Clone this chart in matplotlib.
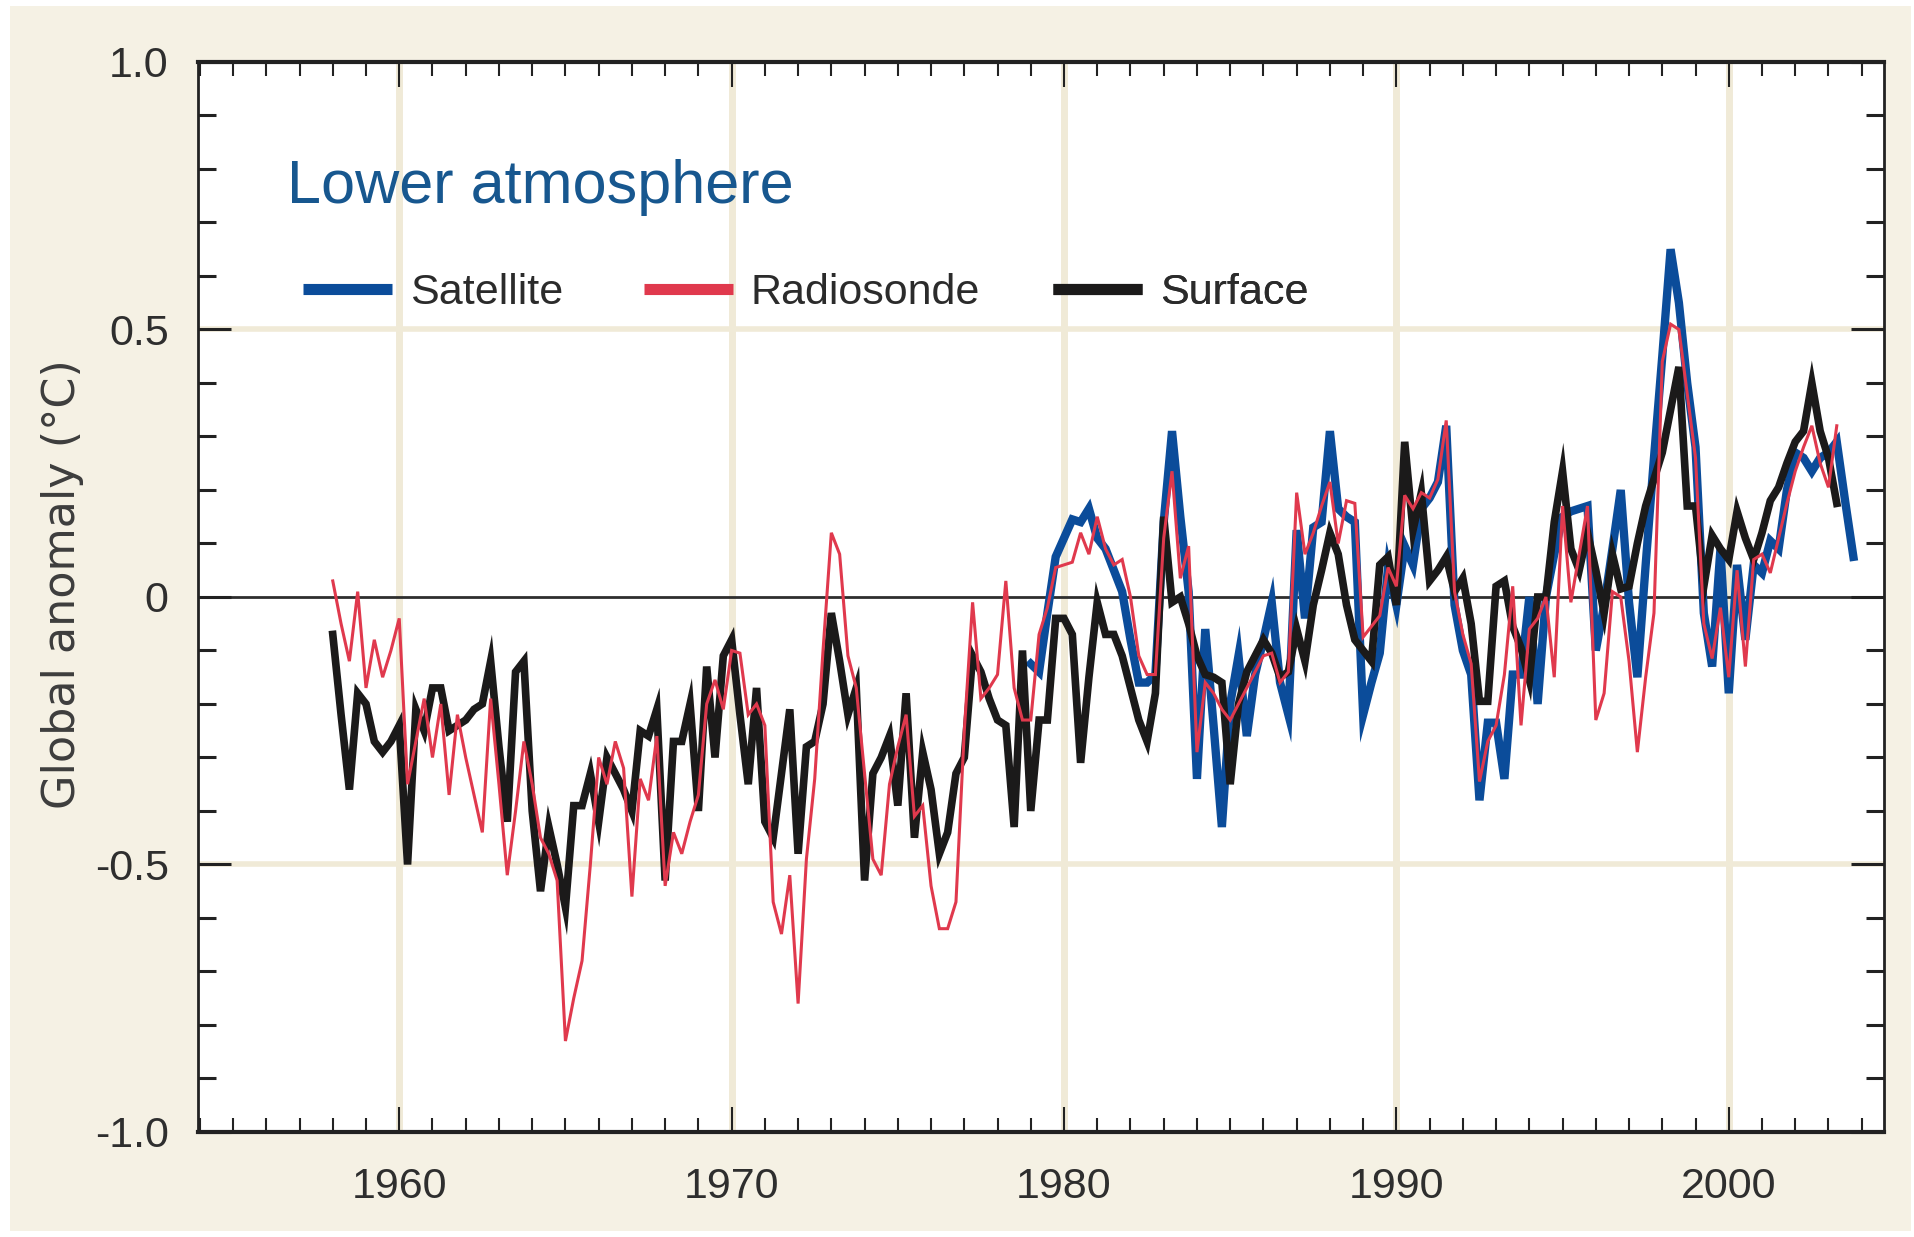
import matplotlib
matplotlib.use('Agg')
import matplotlib.pyplot as plt
import numpy as np
from matplotlib.lines import Line2D
from matplotlib.patches import Rectangle
from matplotlib.ticker import MultipleLocator, FixedLocator

# Seasonal global temperature anomalies (deg C)
surface_start = 1958.0
surface = [
    -0.07, -0.22, -0.36, -0.18,   # 1958
    -0.20, -0.27, -0.29, -0.27,   # 1959
    -0.24, -0.50, -0.21, -0.25,   # 1960
    -0.17, -0.17, -0.25, -0.24,   # 1961
    -0.23, -0.21, -0.20, -0.12,   # 1962
    -0.28, -0.42, -0.14, -0.12,   # 1963
    -0.40, -0.55, -0.43, -0.50,   # 1964
    -0.58, -0.39, -0.39, -0.33,   # 1965
    -0.42, -0.30, -0.33, -0.36,   # 1966
    -0.40, -0.25, -0.26, -0.21,   # 1967
    -0.53, -0.27, -0.27, -0.20,   # 1968
    -0.40, -0.13, -0.30, -0.11,   # 1969
    -0.08, -0.22, -0.35, -0.17,   # 1970
    -0.42, -0.45, -0.33, -0.21,   # 1971
    -0.48, -0.28, -0.27, -0.20,   # 1972
    -0.03, -0.12, -0.22, -0.17,   # 1973
    -0.53, -0.33, -0.30, -0.26,   # 1974
    -0.39, -0.18, -0.45, -0.29,   # 1975
    -0.36, -0.48, -0.44, -0.33,   # 1976
    -0.30, -0.11, -0.14, -0.19,   # 1977
    -0.23, -0.24, -0.43, -0.10,   # 1978
    -0.40, -0.23, -0.23, -0.04,   # 1979
    -0.04, -0.07, -0.31, -0.15,   # 1980
    -0.01, -0.07, -0.07, -0.11,   # 1981
    -0.17, -0.23, -0.27, -0.18,   # 1982
    0.15, -0.01, 0.00, -0.05,     # 1983
    -0.11, -0.145, -0.15, -0.16,  # 1984
    -0.35, -0.20, -0.14, -0.11,   # 1985
    -0.08, -0.105, -0.15, -0.14,  # 1986
    -0.06, -0.12, -0.015, 0.05,   # 1987
    0.12, 0.08, -0.015, -0.08,    # 1988
    -0.10, -0.12, 0.06, 0.075,    # 1989
    -0.015, 0.29, 0.125, 0.195,   # 1990
    0.03, 0.05, 0.075, 0.01,      # 1991
    0.035, -0.05, -0.195, -0.195, # 1992
    0.02, 0.03, -0.055, -0.095,   # 1993
    -0.155, 0.0, 0.0, 0.14,       # 1994
    0.235, 0.09, 0.05, 0.12,      # 1995
    0.05, -0.03, 0.08, 0.015,     # 1996
    0.02, 0.10, 0.17, 0.22,       # 1997
    0.27, 0.35, 0.43, 0.17,       # 1998
    0.17, 0.02, 0.115, 0.09,      # 1999
    0.07, 0.16, 0.11, 0.07,       # 2000
    0.12, 0.18, 0.205, 0.25,      # 2001
    0.29, 0.31, 0.40, 0.31,       # 2002
    0.26, 0.175,                  # 2003
]

radiosonde_start = 1958.0
radiosonde = [
    0.03, -0.05, -0.12, 0.01,     # 1958
    -0.17, -0.08, -0.15, -0.10,   # 1959
    -0.04, -0.35, -0.27, -0.19,   # 1960
    -0.30, -0.20, -0.37, -0.22,   # 1961
    -0.30, -0.37, -0.44, -0.19,   # 1962
    -0.35, -0.52, -0.40, -0.27,   # 1963
    -0.35, -0.45, -0.48, -0.53,   # 1964
    -0.83, -0.75, -0.68, -0.50,   # 1965
    -0.30, -0.35, -0.27, -0.32,   # 1966
    -0.56, -0.34, -0.38, -0.26,   # 1967
    -0.54, -0.44, -0.48, -0.42,   # 1968
    -0.37, -0.20, -0.155, -0.21,  # 1969
    -0.10, -0.105, -0.22, -0.20,  # 1970
    -0.24, -0.57, -0.63, -0.52,   # 1971
    -0.76, -0.49, -0.34, -0.10,   # 1972
    0.12, 0.08, -0.11, -0.17,     # 1973
    -0.33, -0.49, -0.52, -0.35,   # 1974
    -0.28, -0.22, -0.41, -0.39,   # 1975
    -0.54, -0.62, -0.62, -0.57,   # 1976
    -0.25, -0.01, -0.19, -0.17,   # 1977
    -0.145, 0.03, -0.17, -0.23,   # 1978
    -0.23, -0.07, -0.02, 0.055,   # 1979
    0.06, 0.065, 0.12, 0.08,      # 1980
    0.15, 0.09, 0.06, 0.07,       # 1981
    0.0, -0.11, -0.145, -0.145,   # 1982
    0.11, 0.235, 0.035, 0.095,    # 1983
    -0.29, -0.16, -0.18, -0.21,   # 1984
    -0.23, -0.20, -0.17, -0.14,   # 1985
    -0.11, -0.105, -0.16, -0.14,  # 1986
    0.195, 0.08, 0.12, 0.17,      # 1987
    0.215, 0.10, 0.18, 0.175,     # 1988
    -0.075, -0.055, -0.035, 0.055,  # 1989
    0.02, 0.19, 0.165, 0.195,     # 1990
    0.185, 0.22, 0.33, 0.01,      # 1991
    -0.07, -0.125, -0.345, -0.27, # 1992
    -0.24, -0.145, 0.02, -0.24,   # 1993
    -0.06, -0.04, 0.0, -0.15,     # 1994
    0.17, -0.01, 0.08, 0.17,      # 1995
    -0.23, -0.18, 0.01, 0.0,      # 1996
    -0.12, -0.29, -0.15, -0.03,   # 1997
    0.44, 0.51, 0.50, 0.38,       # 1998
    0.26, -0.05, -0.115, -0.02,   # 1999
    -0.15, 0.05, -0.13, 0.07,     # 2000
    0.08, 0.045, 0.11, 0.175,     # 2001
    0.235, 0.28, 0.32, 0.25,      # 2002
    0.205, 0.32,                  # 2003
]

satellite_start = 1979.0
satellite = [
    -0.125, -0.14, -0.03, 0.075,  # 1979
    0.11, 0.145, 0.14, 0.165,     # 1980
    0.11, 0.09, 0.05, 0.01,       # 1981
    -0.08, -0.16, -0.16, -0.145,  # 1982
    0.14, 0.31, 0.15, 0.01,       # 1983
    -0.34, -0.06, -0.24, -0.43,   # 1984
    -0.20, -0.11, -0.26, -0.145,  # 1985
    -0.08, -0.01, -0.16, -0.22,   # 1986
    0.125, -0.04, 0.13, 0.14,     # 1987
    0.31, 0.165, 0.15, 0.14,      # 1988
    -0.22, -0.16, -0.105, 0.055,  # 1989
    -0.015, 0.095, 0.06, 0.165,   # 1990
    0.185, 0.215, 0.32, -0.015,   # 1991
    -0.10, -0.145, -0.38, -0.235, # 1992
    -0.235, -0.34, -0.145, -0.145,  # 1993
    0.0, -0.20, 0.0, 0.08,        # 1994
    0.15, 0.16, 0.165, 0.17,      # 1995
    -0.10, -0.016, 0.09, 0.20,    # 1996
    -0.01, -0.15, 0.06, 0.26,     # 1997
    0.45, 0.65, 0.55, 0.40,       # 1998
    0.28, -0.03, -0.13, 0.09,     # 1999
    -0.18, 0.06, -0.08, 0.06,     # 2000
    0.045, 0.105, 0.09, 0.20,     # 2001
    0.27, 0.26, 0.235, 0.26,      # 2002
    0.27, 0.29, 0.18, 0.075,      # 2003
]

ytick_values = [-1.0, -0.5, 0.0, 0.5, 1.0]
ytick_labels = ['-1.0', '-0.5', '0', '0.5', '1.0']
decades = [1960, 1970, 1980, 1990, 2000]

# colours
cream = '#f5f1e4'
grid_c = '#f0ead7'
blue = '#0b4c9a'
red = '#e0394d'
black = '#1b1a1a'

plt.rcParams['font.family'] = ['Liberation Sans', 'DejaVu Sans']


def seasons(start, values):
    return start + 0.25 * np.arange(len(values))


fig = plt.figure(figsize=(19.15, 12.37), dpi=100, facecolor='white')
fig.patches.append(Rectangle((10 / 1915, 6 / 1237), 1901 / 1915, 1225 / 1237,
                             transform=fig.transFigure, facecolor=cream,
                             edgecolor='none', zorder=-10))
ax = fig.add_axes([0.1033, 0.0849, 0.8805, 0.8650])
ax.set_facecolor('white')

# background grid
for yr in decades:
    ax.axvline(yr, color=grid_c, lw=5, zorder=0)
for v in (-0.5, 0.5):
    ax.axhline(v, color=grid_c, lw=4, zorder=0)
ax.axhline(0, color='#2e2e2e', lw=2, zorder=1)

# series
ax.plot(seasons(satellite_start, satellite), satellite, color=blue, lw=6,
        solid_joinstyle='miter', zorder=3)
ax.plot(seasons(surface_start, surface), surface, color=black, lw=5.5,
        solid_joinstyle='miter', zorder=4)
ax.plot(seasons(radiosonde_start, radiosonde), radiosonde, color=red, lw=2.2,
        solid_joinstyle='miter', zorder=5)

ax.set_xlim(1953.94, 2004.67)
ax.set_ylim(-1.0, 1.0)

ax.xaxis.set_major_locator(FixedLocator(decades))
ax.xaxis.set_minor_locator(MultipleLocator(1))
ax.yaxis.set_major_locator(FixedLocator(ytick_values))
ax.yaxis.set_minor_locator(MultipleLocator(0.1))
ax.set_yticklabels(ytick_labels)

ax.tick_params(axis='x', which='major', direction='in', length=18, width=1.5,
               top=True, bottom=True, pad=25, labelsize=31, colors='#222222',
               labelcolor='#2e2e2e')
ax.tick_params(axis='x', which='minor', direction='in', length=10, width=1.5,
               top=True, bottom=True, colors='#222222')
ax.tick_params(axis='y', which='major', direction='in', length=24, width=2.2,
               left=True, right=True, pad=21, labelsize=31, colors='#222222',
               labelcolor='#2e2e2e')
ax.tick_params(axis='y', which='minor', direction='in', length=13, width=2.2,
               left=True, right=True, colors='#222222')

for side in ('top', 'bottom'):
    ax.spines[side].set_linewidth(3)
    ax.spines[side].set_color('#222222')
for side in ('left', 'right'):
    ax.spines[side].set_linewidth(2)
    ax.spines[side].set_color('#222222')

# title inside the plot
ax.text(0.0529, 0.8682, 'Lower atmosphere', transform=ax.transAxes,
        fontsize=44, color='#17578f', ha='left', va='baseline', zorder=6)

# legend: three keys side by side
keys = [('Satellite', blue, 0.0624), ('Radiosonde', red, 0.2644),
        ('Surface', black, 0.5072)]
for label, color, x in keys:
    h = Line2D([], [], color=color, lw=8, solid_capstyle='butt')
    leg = ax.legend([h], [label], loc='center left', bbox_to_anchor=(x, 0.7841),
                    frameon=False, fontsize=31, handlelength=2.07,
                    handletextpad=0.42, borderpad=0, borderaxespad=0)
    for t in leg.get_texts():
        t.set_color('#2b2b2b')
    ax.add_artist(leg)

fig.text(63 / 1915, 1 - 584 / 1237, 'Global anomaly (°C)', rotation=90,
         ha='center', va='center', fontsize=32, color='#3d3d3d',
         family='DejaVu Sans')

fig.savefig('out.png', dpi=100, facecolor=fig.get_facecolor())
